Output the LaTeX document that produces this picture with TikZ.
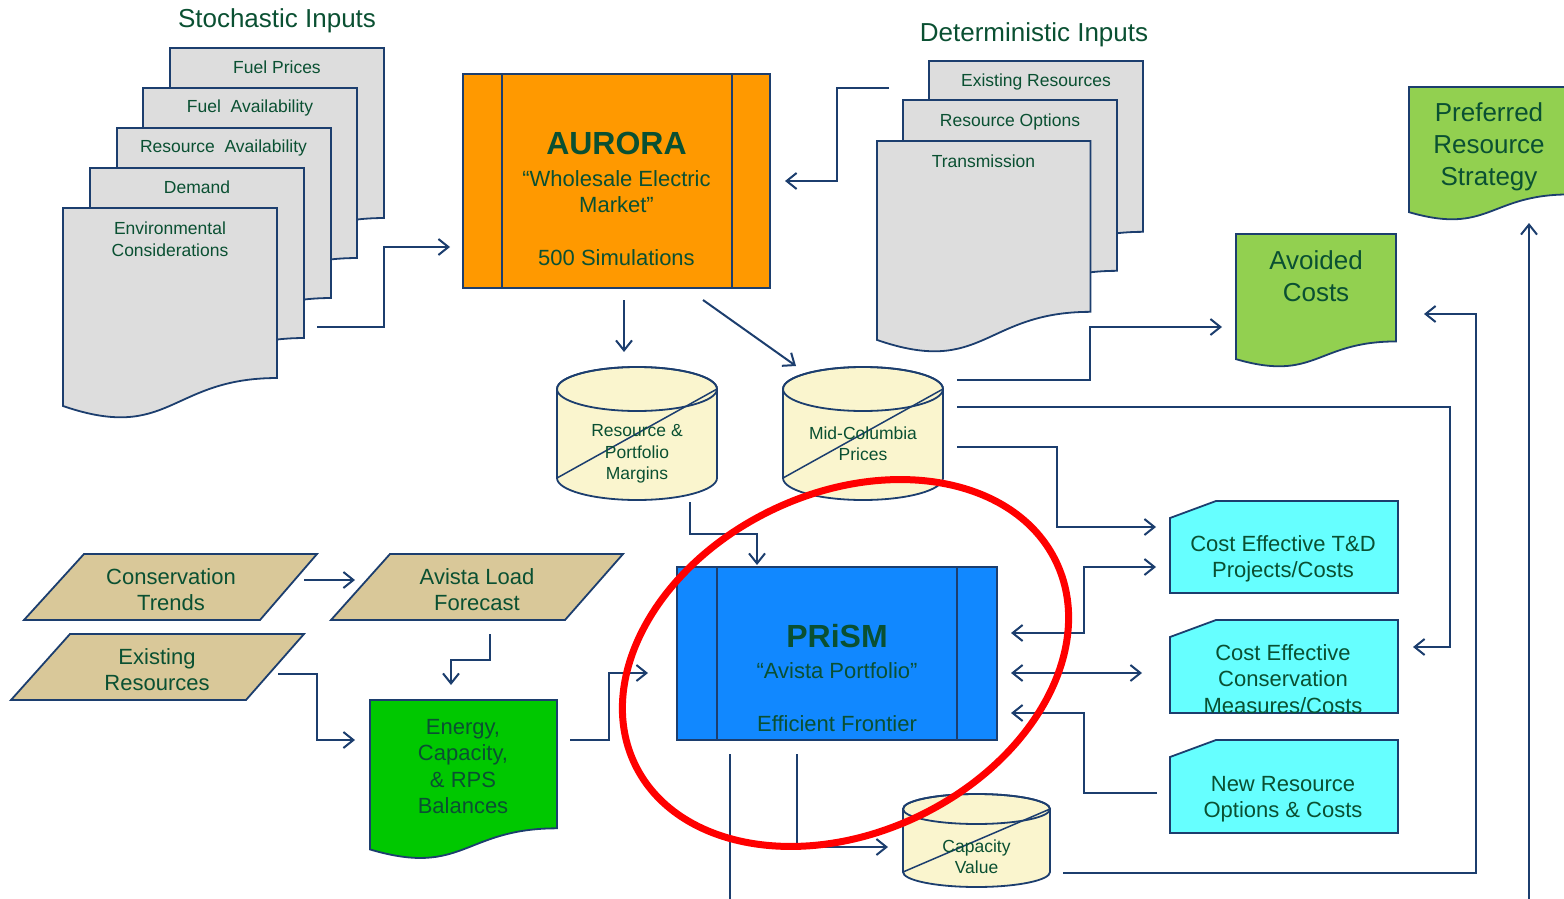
\documentclass[tikz,border=0pt]{standalone}
\usepackage{fontspec}
\setmainfont{Liberation Sans}
\usetikzlibrary{arrows.meta,calc}
\definecolor{lb}{RGB}{28,62,110}
\definecolor{tg}{RGB}{10,80,50}
\definecolor{docgray}{RGB}{221,221,221}
\definecolor{aurorange}{RGB}{255,153,0}
\definecolor{cylyellow}{RGB}{250,245,206}
\definecolor{tan}{RGB}{217,200,153}
\definecolor{enggreen}{RGB}{0,200,0}
\definecolor{prismblue}{RGB}{17,136,255}
\definecolor{cyanbox}{RGB}{102,255,255}
\definecolor{lightgreen}{RGB}{146,208,80}
\tikzset{
  ln/.style={draw=lb, line width=2pt},
  tip/.style={-{Straight Barb[length=10pt,width=16pt]}},
  tips/.style={{Straight Barb[length=10pt,width=16pt]}-{Straight Barb[length=10pt,width=16pt]}},
  brd/.style={draw=lb, line width=1.8pt, line join=miter},
  lbl/.style={text=tg, align=center, inner sep=0pt, yshift=-1.5pt},
  fs/.style={font=\fontsize{17.5}{21.5}\selectfont},
  fm/.style={font=\fontsize{22}{26.5}\selectfont},
  fl/.style={font=\fontsize{26}{32}\selectfont},
  fb/.style={font=\fontsize{32}{36}\selectfont\bfseries},
}
% document shape: #1 fill, #2 left, #3 top, #4 width, #5 height
\newcommand{\docshp}[5]{%
  \path[brd, fill=#1] (#2,#3) -- ({#2+#4},#3) -- ({#2+#4},{#3+0.802*#5})
    .. controls ({#2+0.5*#4},{#3+0.802*#5}) and ({#2+0.5*#4},{#3+1.1075*#5}) .. (#2,{#3+0.934*#5}) -- cycle;}
% cylinder: #1 cx, #2 rx, #3 top centre y, #4 bottom centre y, #5 ry
\newcommand{\cylshp}[5]{%
  \path[brd, fill=cylyellow] ({#1-#2},#3) -- ({#1-#2},#4)
    arc[start angle=180, end angle=0, x radius=#2, y radius=#5] -- ({#1+#2},#3)
    arc[start angle=0, end angle=-180, x radius=#2, y radius=#5] -- cycle;
  \draw[brd] (#1,#3) ellipse [x radius=#2, y radius=#5];
  \draw[draw=lb, line width=1.5pt] ({#1-#2},#4) -- ({#1+#2},#3);}
% card shape: #1 left, #2 top, #3 right, #4 bottom
\newcommand{\cardshp}[4]{%
  \path[brd, fill=cyanbox] (#1,{#2+17}) -- ({#1+46},#2) -- (#3,#2) -- (#3,#4) -- (#1,#4) -- cycle;}
\begin{document}
\begin{tikzpicture}[x=1pt, y=-1pt]
\useasboundingbox (0,0) rectangle (1564,899);
\clip (0,0) rectangle (1564,899);

% ---------- titles
\node[lbl, fl] (sttitle) at (277,19) {Stochastic Inputs};
\node[lbl, fl] (dttitle) at (1034,33) {Deterministic Inputs};

% ---------- stochastic inputs stack
\docshp{docgray}{170}{48}{214}{212}
\docshp{docgray}{143}{88}{214}{212}
\docshp{docgray}{117}{128}{214}{212}
\docshp{docgray}{90}{168}{214}{212}
\docshp{docgray}{63}{208}{214}{212}
\node[lbl, fs] (fuelp) at (277,66) {Fuel Prices};
\node[lbl, fs] (fuela) at (250,106) {Fuel~~Availability};
\node[lbl, fs] (resa) at (223.5,146) {Resource~~Availability};
\node[lbl, fs] (dem) at (197,186) {Demand};
\node[lbl, fs] (env) at (170,237.5) {Environmental\\Considerations};

% ---------- deterministic inputs stack
\docshp{docgray}{929}{61}{214}{213}
\docshp{docgray}{903}{100}{214}{213}
\docshp{docgray}{877}{141}{213.5}{213}
\node[lbl, fs] (exres) at (1036,80) {Existing Resources};
\node[lbl, fs] (resopt) at (1010,120) {Resource Options};
\node[lbl, fs] (trans) at (983.5,160) {Transmission};

% ---------- AURORA
\node[brd, fill=aurorange, minimum width=307pt, minimum height=214pt, inner sep=0pt] (aurora) at (616.5,181) {};
\draw[brd] (502,74) -- (502,288);
\draw[brd] (732,74) -- (732,288);
\node[lbl, fb] (auroratitle) at (616.5,142) {AURORA};
\node[lbl, fm] (aurorasub) at (616.5,190) {“Wholesale Electric\\Market”};
\node[lbl, fm] (aurorasim) at (616.5,256) {500 Simulations};

% ---------- cylinders
\cylshp{637}{80}{389}{478}{22}
\node[lbl, fs] (margins) at (637,452.5) {Resource \&\\Portfolio\\Margins};
\cylshp{863}{80}{389}{478}{22}
\node[lbl, fs] (midcol) at (863,442) {Mid-Columbia\\Prices};
\cylshp{976.5}{73.5}{809}{872}{15}
\node[lbl, fs] (capval) at (976.5,855) {Capacity\\Value};

% ---------- green outputs
\docshp{lightgreen}{1236}{234}{160}{134}
\node[lbl, fl] (avoided) at (1316,275) {Avoided\\Costs};
\docshp{lightgreen}{1409}{87}{160}{134}
\node[lbl, fl] (preferred) at (1489,145) {Preferred\\Resource\\Strategy};

% ---------- parallelograms
\path[brd, fill=tan] (84,554) -- (317,554) -- (260,620) -- (24,620) -- cycle;
\node[lbl, fm] (constr) at (171,588) {Conservation\\Trends};
\path[brd, fill=tan] (390,554) -- (623,554) -- (565,620) -- (331,620) -- cycle;
\node[lbl, fm] (loadfc) at (477,588) {Avista Load\\Forecast};
\path[brd, fill=tan] (70,634) -- (304,634) -- (246,700) -- (11,700) -- cycle;
\node[lbl, fm] (exist) at (157,668) {Existing\\Resources};

% ---------- energy balances
\docshp{enggreen}{370}{700}{187}{160}
\node[lbl, fm] (energy) at (463,765) {Energy,\\Capacity,\\\& RPS\\Balances};

% ---------- PRiSM
\node[brd, fill=prismblue, minimum width=320pt, minimum height=173pt, inner sep=0pt] (prism) at (837,653.5) {};
\draw[brd] (717,567) -- (717,740);
\draw[brd] (957,567) -- (957,740);
\node[lbl, fb] (prismtitle) at (837,635) {PRiSM};
\node[lbl, fm] (prismsub) at (837,669) {“Avista Portfolio”};
\node[lbl, fm] (prismef) at (837,722) {Efficient Frontier};

% ---------- cyan cards
\cardshp{1170}{501}{1398}{593}
\node[lbl, fm] (tdcost) at (1283,557.5) {Cost Effective T\&D\\Projects/Costs};
\cardshp{1170}{620}{1398}{713}
\node[lbl, fm] (conscost) at (1283,677.5) {Cost Effective\\Conservation\\Measures/Costs};
\cardshp{1170}{740}{1398}{833}
\node[lbl, fm] (newres) at (1283,797.5) {New Resource\\Options \& Costs};

% ---------- connector end points
\coordinate (stOut) at (317,327);
\coordinate (auIn1) at (450,247);
\coordinate (dtOut) at (889,88);
\coordinate (auIn2) at (785,181);
\coordinate (auOut1) at (624,300);
\coordinate (mgIn) at (624,352);
\coordinate (auOut2) at (703,300);
\coordinate (mcIn) at (796,366);
\coordinate (mgOut) at (690,502);
\coordinate (prIn1) at (757,565);
\coordinate (mcOut1) at (957,380);
\coordinate (avIn1) at (1222,327);
\coordinate (mcOut2) at (957,407);
\coordinate (mcCorner) at (1450,407);
\coordinate (csIn1) at (1413,647);
\coordinate (mcOut3) at (957,447);
\coordinate (tdIn1) at (1156,527);
\coordinate (prR1) at (1011,633);
\coordinate (tdIn2) at (1156,567);
\coordinate (prR2) at (1011,673);
\coordinate (csIn2) at (1142,673);
\coordinate (nrOut) at (1157,793);
\coordinate (prR3) at (1011,713);
\coordinate (enOut) at (570,740);
\coordinate (prL) at (648,673);
\coordinate (ctOut) at (304,580);
\coordinate (lfIn) at (355,580);
\coordinate (lfOut) at (490,634);
\coordinate (enIn1) at (451,685);
\coordinate (exOut) at (278,674);
\coordinate (enIn2) at (355,740);
\coordinate (prB1) at (797,754);
\coordinate (cvIn) at (888,847);
\coordinate (prB2) at (730,754);
\coordinate (prB2end) at (730,905);
\coordinate (cvOut) at (1063,873);
\coordinate (cvCorner) at (1476,873);
\coordinate (avIn2) at (1424,314);
\coordinate (psBottom) at (1529,905);
\coordinate (psIn) at (1529,223);

% ---------- connectors
\draw[ln, tip] (stOut) -| ($(stOut)!0.5!(auIn1)$) |- (auIn1);
\draw[ln, tip] (dtOut) -| ($(dtOut)!0.5!(auIn2)$) |- (auIn2);
\draw[ln, tip] (auOut1) -- (mgIn);
\draw[ln, tip] (auOut2) -- (mcIn);
\draw[ln, tip] (mgOut) |- ($(mgOut)!0.5!(prIn1)$) -| (prIn1);
\draw[ln, tip] (mcOut1) -| ($(mcOut1)!0.5!(avIn1)$) |- (avIn1);
\draw[ln, tip] (mcOut2) -- (mcCorner) |- (csIn1);
\draw[ln, tip] (mcOut3) -| ($(mcOut3)!0.5!(tdIn1)$) |- (tdIn1);
\draw[ln, tips] (prR1) -| ($(prR1)!0.5!(tdIn2)$) |- (tdIn2);
\draw[ln, tips] (prR2) -- (csIn2);
\draw[ln, tip] (nrOut) -| ($(nrOut)!0.5!(prR3)$) |- (prR3);
\draw[ln, tip] (enOut) -| ($(enOut)!0.5!(prL)$) |- (prL);
\draw[ln, tip] (ctOut) -- (lfIn);
\draw[ln, tip] (lfOut) |- ($(lfOut)!0.5!(enIn1)$) -| (enIn1);
\draw[ln, tip] (exOut) -| ($(exOut)!0.5!(enIn2)$) |- (enIn2);
\draw[ln, tip] (prB1) |- (cvIn);
\draw[ln] (prB2) -- (prB2end);
\draw[ln, tip] (cvOut) -- (cvCorner) |- (avIn2);
\draw[ln, tip] (psBottom) -- (psIn);

% ---------- red highlight ellipse
\draw[red, line width=7pt, rotate around={25.7:(845.5,663)}] (845.5,663) ellipse [x radius=233.7, y radius=169.7];
\end{tikzpicture}
\end{document}
